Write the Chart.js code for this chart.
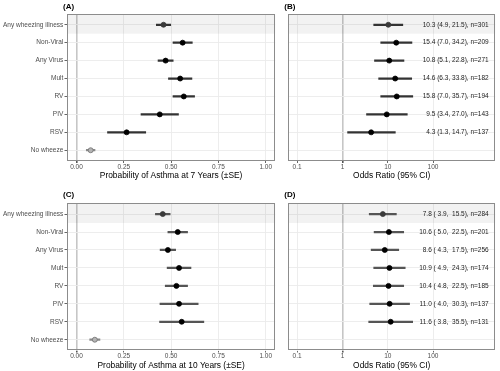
<!DOCTYPE html>
<html><head><meta charset="utf-8">
<script src="https://cdn.jsdelivr.net/npm/chart.js@4.4.1/dist/chart.umd.min.js"></script>
<style>
html,body{margin:0;padding:0;background:#fff;overflow:hidden}
body{width:500px;height:371px;position:relative}
canvas{position:absolute;display:block}
</style></head><body>
<canvas id="cA" style="left:0px;top:0px" width="280" height="185"></canvas>
<canvas id="cB" style="left:280px;top:0px" width="220" height="185"></canvas>
<canvas id="cC" style="left:0px;top:185px" width="280" height="186"></canvas>
<canvas id="cD" style="left:280px;top:185px" width="220" height="186"></canvas>
<script>
// ---- data ----
const categories = ["Any wheezing illness","Non-Viral","Any Virus","Mult","RV","PIV","RSV","No wheeze"];
const prob7  = [0.460, 0.561, 0.471, 0.548, 0.567, 0.440, 0.265, 0.075];
const se7    = [0.038, 0.051, 0.040, 0.062, 0.057, 0.099, 0.101, 0.023];
const prob10 = [0.456, 0.535, 0.483, 0.542, 0.528, 0.542, 0.556, 0.097];
const se10   = [0.039, 0.052, 0.041, 0.063, 0.059, 0.101, 0.117, 0.027];
const or7    = [10.3, 15.4, 10.8, 14.6, 15.8, 9.5, 4.3, null];
const or7Lo  = [4.9, 7.0, 5.1, 6.3, 7.0, 3.4, 1.3, null];
const or7Hi  = [21.5, 34.2, 22.8, 33.8, 35.7, 27.0, 14.7, null];
const n7     = [301, 209, 271, 182, 194, 143, 137, null];
const or10   = [7.8, 10.6, 8.6, 10.9, 10.4, 11.0, 11.6, null];
const or10Lo = [3.9, 5.0, 4.3, 4.9, 4.8, 4.0, 3.8, null];
const or10Hi = [15.5, 22.5, 17.5, 24.3, 22.5, 30.3, 35.5, null];
const n10    = [284, 201, 256, 174, 185, 137, 131, null];
const probTicks = [0, 0.25, 0.5, 0.75, 1];
const orTicks = [0.1, 1, 10, 100];

const labels7 = or7.map((v,i)=> v==null ? '' :
  `${v.toFixed(1)} (${or7Lo[i].toFixed(1)}, ${or7Hi[i].toFixed(1)}), n=${n7[i]}`);
const labels10 = or10.map((v,i)=> v==null ? '' :
  `${v.toFixed(1)} (${or10Lo[i].toFixed(1).padStart(4)}, ${or10Hi[i].toFixed(1).padStart(5)}), n=${n10[i]}`);

const FONT = "'Liberation Sans', Arial, Helvetica, sans-serif";

const deco = {
  id: 'deco',
  beforeDatasetsDraw(chart, args, o) {
    const {ctx, chartArea: a, scales} = chart;
    const yb = scales.y.getPixelForValue(0.5);
    ctx.save();
    ctx.fillStyle = 'rgba(0,0,0,0.05)';
    ctx.fillRect(a.left, a.top, a.right - a.left, yb - a.top);
    ctx.restore();
  },
  afterDatasetsDraw(chart, args, o) {
    const {ctx, chartArea: a, scales} = chart;
    ctx.save();
    if (o.labels) {
      ctx.font = `6.5px ${FONT}`;
      ctx.fillStyle = '#222';
      ctx.textAlign = 'right';
      ctx.textBaseline = 'middle';
      o.labels.forEach((t, i) => {
        if (!t) return;
        ctx.fillText(t, a.right - 6.5, scales.y.getPixelForValue(i));
      });
    }
    ctx.strokeStyle = '#8c8c8c';
    ctx.lineWidth = 1;
    ctx.strokeRect(Math.round(a.left) + 0.5, Math.round(a.top) + 0.5,
                   Math.round(a.right - a.left) - 1, Math.round(a.bottom - a.top) - 1);
    ctx.font = `bold 8px ${FONT}`;
    ctx.fillStyle = '#000';
    ctx.textAlign = 'left';
    ctx.textBaseline = 'middle';
    ctx.fillText(o.tag, a.left - 4, a.top - o.tagGap);
    ctx.restore();
  }
};

const ptFill = categories.map((c,i)=> i===0 ? '#3a3a3a' : (i===7 ? '#b4b4b4' : '#000'));
const ptBorder = categories.map((c,i)=> i===0 ? '#3a3a3a' : (i===7 ? '#707070' : '#000'));

function makePanel(id, o) {
  const est = o.est, lo = o.lo, hi = o.hi;
  const pts = [], bars = [], pf = [], pb = [], bc = [];
  est.forEach((v, i) => {
    if (v == null) return;
    pts.push({x: v, y: i});
    pf.push(ptFill[i]); pb.push(ptBorder[i]);
    bars.push({y: i, x: [lo[i], hi[i]]});
    bc.push(i === 7 ? '#8a8a8a' : o.barColor);
  });
  const refVal = o.log ? 1 : 0;
  new Chart(document.getElementById(id), {
    type: 'scatter',
    data: { datasets: [
      { type: 'scatter', data: pts, pointRadius: 2.5, pointBorderWidth: 0.8,
        pointBackgroundColor: pf, pointBorderColor: pb, order: 0 },
      { type: 'bar', indexAxis: 'y', data: bars, backgroundColor: bc,
        barThickness: 1.6, grouped: false, borderWidth: 0, order: 1 }
    ]},
    options: {
      responsive: false, animation: false, devicePixelRatio: 1, events: [],
      layout: { padding: { top: o.padTop, right: o.padRight, left: 0, bottom: 0 } },
      plugins: { legend: {display: false}, tooltip: {enabled: false},
        deco: { tag: o.tag, tagGap: o.tagGap, labels: o.labels } },
      scales: {
        x: {
          type: o.log ? 'logarithmic' : 'linear',
          min: o.min, max: o.max, offset: false,
          afterBuildTicks: s => { s.ticks = o.ticks.map(v => ({value: v})); },
          afterFit: s => { s.height = o.xHeight; },
          ticks: { callback: v => o.log ? String(v) : Number(v).toFixed(2),
            font: {size: 6.5, family: FONT}, color: '#4d4d4d', padding: 0,
            maxRotation: 0, autoSkip: false },
          grid: { offset: false,
            color: c => (c.tick && Math.abs(c.tick.value - refVal) < 1e-9) ? '#c6c6c6' : '#ebebeb',
            lineWidth: c => (c.tick && Math.abs(c.tick.value - refVal) < 1e-9) ? 1.6 : 0.9,
            tickColor: '#555', tickLength: 2, drawTicks: true },
          border: { display: false },
          title: { display: true, text: o.xTitle, color: '#000',
            font: {size: 8.4, family: FONT}, padding: {top: 0, bottom: o.titlePad} }
        },
        y: {
          type: 'linear', reverse: true, min: -0.6, max: 7.6, offset: false,
          afterBuildTicks: s => { s.ticks = categories.map((c, i) => ({value: i})); },
          afterFit: s => { s.width = o.yWidth; },
          ticks: { display: o.showY, callback: v => categories[v],
            font: {size: 6.5, family: FONT}, color: '#4d4d4d', padding: 1.2, autoSkip: false },
          grid: { offset: false, color: '#ebebeb', lineWidth: 0.9, tickColor: '#555',
            tickLength: 2.5, drawTicks: o.showY },
          border: { display: false }
        }
      }
    },
    plugins: [deco]
  });
}

makePanel('cA', { est: prob7, lo: prob7.map((v,i)=>v-se7[i]), hi: prob7.map((v,i)=>v+se7[i]),
  log: false, min: -0.05, max: 1.05, ticks: probTicks, xTitle: 'Probability of Asthma at 7 Years (\u00b1SE)',
  tag: '(A)', tagGap: 7, padTop: 14, padRight: 2.4, xHeight: 24, titlePad: 4, yWidth: 67, showY: true,
  barColor: '#333', labels: null });
makePanel('cB', { est: or7, lo: or7Lo, hi: or7Hi,
  log: true, min: 0.0638, max: 2355, ticks: orTicks, xTitle: 'Odds Ratio (95% CI)',
  tag: '(B)', tagGap: 7, padTop: 14, padRight: 1, xHeight: 24, titlePad: 4, yWidth: 8.3, showY: false,
  barColor: '#333', labels: labels7 });
makePanel('cC', { est: prob10, lo: prob10.map((v,i)=>v-se10[i]), hi: prob10.map((v,i)=>v+se10[i]),
  log: false, min: -0.05, max: 1.05, ticks: probTicks, xTitle: 'Probability of Asthma at 10 Years (\u00b1SE)',
  tag: '(C)', tagGap: 9, padTop: 18.3, padRight: 2.4, xHeight: 20.5, titlePad: 0, yWidth: 67, showY: true,
  barColor: '#555', labels: null });
makePanel('cD', { est: or10, lo: or10Lo, hi: or10Hi,
  log: true, min: 0.0638, max: 2355, ticks: orTicks, xTitle: 'Odds Ratio (95% CI)',
  tag: '(D)', tagGap: 9, padTop: 18.3, padRight: 1, xHeight: 20.5, titlePad: 0, yWidth: 8.3, showY: false,
  barColor: '#555', labels: labels10 });
</script>
</body></html>
